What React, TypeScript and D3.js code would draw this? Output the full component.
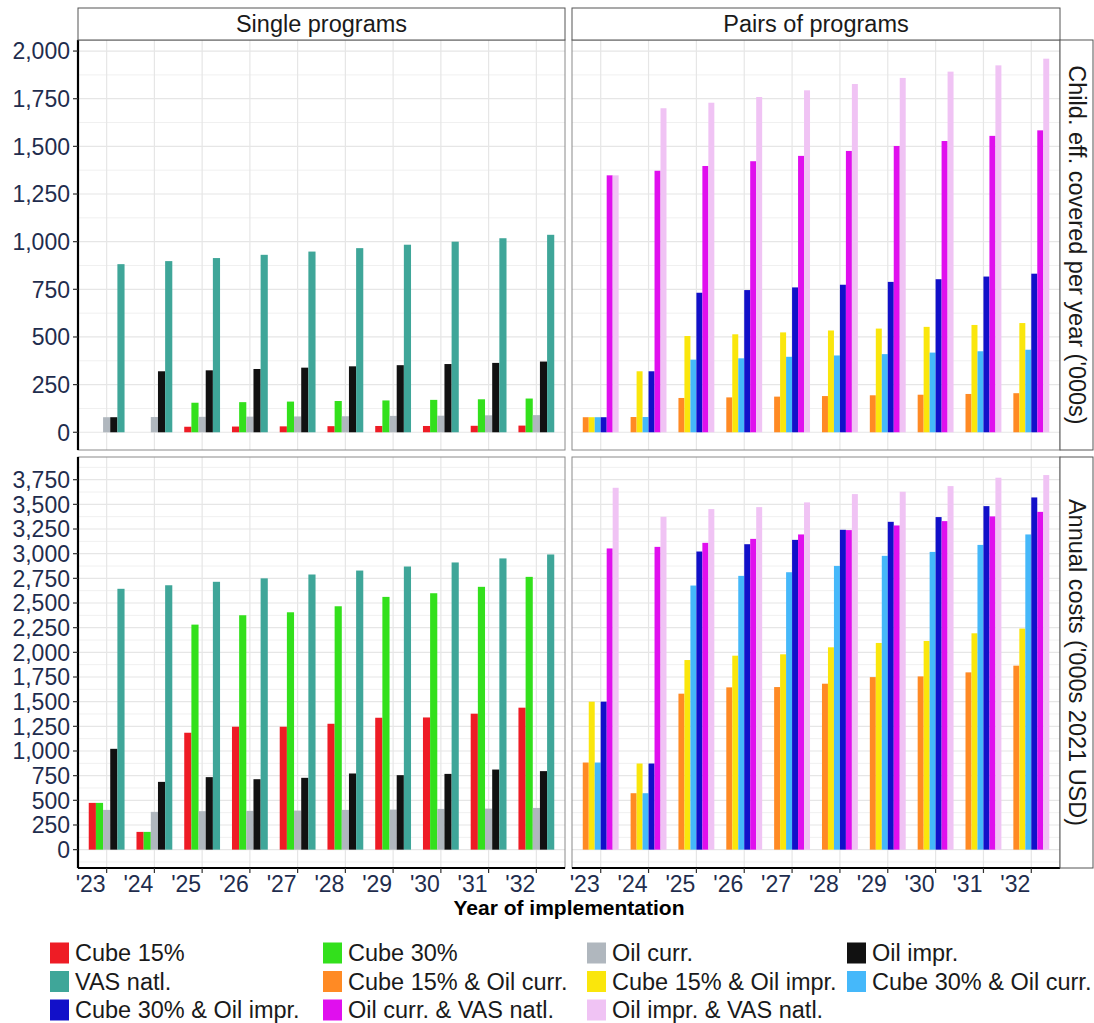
import React from "react";
import * as d3 from "d3";

const years = ["'23", "'24", "'25", "'26", "'27", "'28", "'29", "'30", "'31", "'32"];

const singleNames = ["Cube 15%", "Cube 30%", "Oil curr.", "Oil impr.", "VAS natl."];
const pairNames = [
  "Cube 15% & Oil curr.",
  "Cube 15% & Oil impr.",
  "Cube 30% & Oil curr.",
  "Cube 30% & Oil impr.",
  "Oil curr. & VAS natl.",
  "Oil impr. & VAS natl.",
];
const legendOrder = [...singleNames, ...pairNames];
const seriesColors = [
  "#EE1C25", "#33E01C", "#B0B7BE", "#111111", "#3FA699",
  "#FF8A24", "#FAE60C", "#45B8FA", "#1210C9", "#E00FEE", "#F0C3F4",
];

// Children effectively covered per year ('000s) - single programs
const cube15Cov = [0, 0, 29, 30, 31, 32, 33, 33, 34, 35];
const cube30Cov = [0, 0, 155, 158, 161, 164, 167, 170, 173, 177];
const oilCurrCov = [79, 80, 81, 82, 83, 84, 86, 87, 89, 90];
const oilImprCov = [79, 320, 325, 332, 339, 346, 352, 358, 364, 371];
const vasCov = [882, 898, 914, 931, 948, 966, 984, 1000, 1018, 1036];
// pairs
const c15ocCov = [79, 80, 180, 183, 187, 190, 194, 197, 201, 205];
const c15oiCov = [79, 320, 505, 514, 524, 534, 544, 553, 563, 573];
const c30ocCov = [79, 80, 381, 388, 396, 403, 410, 418, 425, 433];
const c30oiCov = [79, 320, 732, 746, 760, 774, 789, 803, 817, 832];
const ocVasCov = [1348, 1372, 1397, 1422, 1450, 1476, 1502, 1528, 1555, 1584];
const oiVasCov = [1348, 1700, 1729, 1759, 1794, 1827, 1859, 1892, 1925, 1960];

// Annual costs ('000s 2021 USD) - single programs
const cube15Cost = [474, 180, 1185, 1246, 1246, 1276, 1337, 1340, 1378, 1439];
const cube30Cost = [474, 180, 2281, 2376, 2406, 2467, 2562, 2599, 2664, 2765];
const oilCurrCost = [403, 383, 390, 393, 396, 403, 406, 413, 416, 423];
const oilImprCost = [1022, 687, 735, 714, 728, 772, 755, 768, 812, 796];
const vasCost = [2644, 2680, 2715, 2750, 2789, 2829, 2870, 2911, 2952, 2992];
// pairs
const c15ocCost = [883, 572, 1581, 1645, 1648, 1682, 1749, 1756, 1797, 1865];
const c15oiCost = [1500, 873, 1922, 1966, 1980, 2051, 2095, 2115, 2193, 2241];
const c30ocCost = [883, 572, 2677, 2775, 2812, 2876, 2978, 3018, 3089, 3195];
const c30oiCost = [1500, 873, 3022, 3096, 3140, 3242, 3323, 3371, 3482, 3570];
const ocVasCost = [3053, 3069, 3110, 3150, 3195, 3239, 3286, 3330, 3378, 3424];
const oiVasCost = [3668, 3374, 3452, 3472, 3520, 3604, 3628, 3685, 3770, 3797];

const topTicks = [0, 250, 500, 750, 1000, 1250, 1500, 1750, 2000];
const bottomTicks = [0, 250, 500, 750, 1000, 1250, 1500, 1750, 2000, 2250, 2500, 2750, 3000, 3250, 3500, 3750];

const colLabels = ["Single programs", "Pairs of programs"];
const rowLabels = ["Child. eff. covered per year ('000s)", "Annual costs ('000s 2021 USD)"];
const xTitle = "Year of implementation";

const FONT = "'Liberation Sans', Arial, Helvetica, sans-serif";
const TICK_COLOR = "#1F2D4E";

type PanelProps = {
  x0: number; x1: number; y0: number; y1: number;
  domain: [number, number];
  ticks: number[];
  series: number[][];
  colorOffset: number;
  showY: boolean;
  showX: boolean;
};

function Panel({ x0, x1, y0, y1, domain, ticks, series, colorOffset, showY, showX }: PanelProps) {
  const x = d3.scalePoint<string>().domain(years).range([x0, x1]).padding(0.6);
  const y = d3.scaleLinear().domain(domain).range([y1, y0]);
  const step = x.step();
  const dodge = d3.scaleBand<number>()
    .domain(d3.range(series.length))
    .range([-step * 0.375, step * 0.375])
    .padding(0);
  const bw = dodge.bandwidth();
  const tickStep = ticks[1] - ticks[0];
  const minor: number[] = [];
  for (let v = Math.ceil(domain[0] / (tickStep / 2)) * (tickStep / 2); v <= domain[1]; v += tickStep / 2) {
    if (!ticks.includes(v)) minor.push(v);
  }
  const fmt = d3.format(",");
  return (
    <g>
      <rect x={x0} y={y0} width={x1 - x0} height={y1 - y0} fill="#ffffff" />
      {minor.map((v) => (
        <line key={"mi" + v} x1={x0} x2={x1} y1={y(v)} y2={y(v)} stroke="#F0F0F0" strokeWidth={1} />
      ))}
      {ticks.map((v) => (
        <line key={"ma" + v} x1={x0} x2={x1} y1={y(v)} y2={y(v)} stroke="#E6E6E6" strokeWidth={1.2} />
      ))}
      {years.map((yr) => (
        <line key={"v" + yr} x1={x(yr)!} x2={x(yr)!} y1={y0} y2={y1} stroke="#E6E6E6" strokeWidth={1.2} />
      ))}
      {series.map((vals, si) =>
        vals.map((v, i) => {
          const cx = x(years[i])! + dodge(si)!;
          const top = y(Math.max(v, 0));
          const base = y(0);
          return (
            <rect
              key={si + "-" + i}
              x={cx}
              y={top}
              width={bw}
              height={Math.max(0, base - top)}
              fill={seriesColors[colorOffset + si]}
            />
          );
        })
      )}
      <rect x={x0} y={y0} width={x1 - x0} height={y1 - y0} fill="none" stroke="#8A8A8A" strokeWidth={1} />
      {showY && (
        <g>
          <line x1={x0} x2={x0} y1={y0} y2={y1} stroke="#000" strokeWidth={2.2} />
          {ticks.map((v) => (
            <g key={"yt" + v}>
              <line x1={x0 - 5} x2={x0} y1={y(v)} y2={y(v)} stroke="#333" strokeWidth={1.2} />
              <text x={x0 - 8} y={y(v) + 8.3} textAnchor="end" fontSize={23} fill={TICK_COLOR} fontFamily={FONT}>
                {fmt(v)}
              </text>
            </g>
          ))}
        </g>
      )}
      {showX && (
        <g>
          <line x1={x0} x2={x1} y1={y1} y2={y1} stroke="#000" strokeWidth={2.2} />
          {years.map((yr) => (
            <g key={"xt" + yr}>
              <line x1={x(yr)!} x2={x(yr)!} y1={y1} y2={y1 + 5} stroke="#333" strokeWidth={1.2} />
              <text x={x(yr)! - 1} y={y1 + 24} textAnchor="end" fontSize={23} fill={TICK_COLOR} fontFamily={FONT}>
                {yr}
              </text>
            </g>
          ))}
        </g>
      )}
    </g>
  );
}

export default function App() {
  const W = 1094;
  const H = 1023;
  const cols = [
    { x0: 78, x1: 565 },
    { x0: 572, x1: 1060 },
  ];
  const rows = [
    { y0: 40, y1: 450, domain: [-93, 2058] as [number, number], ticks: topTicks },
    { y0: 457, y1: 868, domain: [-186, 3980] as [number, number], ticks: bottomTicks },
  ];
  const data = [
    [
      [cube15Cov, cube30Cov, oilCurrCov, oilImprCov, vasCov],
      [c15ocCov, c15oiCov, c30ocCov, c30oiCov, ocVasCov, oiVasCov],
    ],
    [
      [cube15Cost, cube30Cost, oilCurrCost, oilImprCost, vasCost],
      [c15ocCost, c15oiCost, c30ocCost, c30oiCost, ocVasCost, oiVasCost],
    ],
  ];

  const legendKeyX = [50, 323, 587, 847];
  const legendRowY = [953, 981.5, 1010];

  return (
    <svg
      width={W}
      height={H}
      style={{ position: "absolute", left: 0, top: 0, display: "block", background: "#fff" }}
      fontFamily={FONT}
    >
      <rect x={0} y={0} width={W} height={H} fill="#ffffff" />
      {rows.map((r, ri) =>
        cols.map((c, ci) => (
          <Panel
            key={ri + "-" + ci}
            x0={c.x0}
            x1={c.x1}
            y0={r.y0}
            y1={r.y1}
            domain={r.domain}
            ticks={r.ticks}
            series={data[ri][ci]}
            colorOffset={ci === 0 ? 0 : 5}
            showY={ci === 0}
            showX={ri === 1}
          />
        ))
      )}
      {/* column strips */}
      {cols.map((c, ci) => (
        <g key={"cs" + ci}>
          <rect x={c.x0} y={8} width={c.x1 - c.x0} height={32} fill="#ffffff" stroke="#555" strokeWidth={1} />
          <text x={(c.x0 + c.x1) / 2} y={32} textAnchor="middle" fontSize={23.5} fill="#1a1a1a">
            {colLabels[ci]}
          </text>
        </g>
      ))}
      {/* row strips */}
      {rows.map((r, ri) => {
        const cy = (r.y0 + r.y1) / 2;
        return (
          <g key={"rs" + ri}>
            <rect x={1060} y={r.y0} width={33} height={r.y1 - r.y0} fill="#ffffff" stroke="#555" strokeWidth={1} />
            <text
              transform={`translate(${1068.5},${cy}) rotate(90)`}
              textAnchor="middle"
              fontSize={23.5}
              fill="#1a1a1a"
            >
              {rowLabels[ri]}
            </text>
          </g>
        );
      })}
      {/* x title */}
      <text x={569} y={915} textAnchor="middle" fontSize={21} fontWeight="bold" fill="#000">
        {xTitle}
      </text>
      {/* legend */}
      {legendOrder.map((name, i) => {
        const col = i % 4;
        const row = Math.floor(i / 4);
        const kx = legendKeyX[col];
        const cy = legendRowY[row];
        return (
          <g key={"lg" + i}>
            <rect x={kx} y={cy - 10.5} width={19} height={21} fill={seriesColors[i]} />
            <text x={kx + 25} y={cy + 8.4} fontSize={23.5} fill="#1a1a1a">
              {name}
            </text>
          </g>
        );
      })}
    </svg>
  );
}
